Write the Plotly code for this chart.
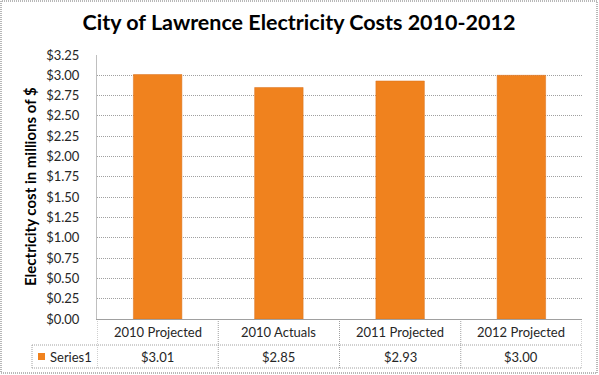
import plotly.graph_objects as go

categories = ["2010 Projected", "2010 Actuals", "2011 Projected", "2012 Projected"]
values = [3.01, 2.85, 2.93, 3.00]
value_labels = ["$3.01", "$2.85", "$2.93", "$3.00"]
series_name = "Series1"
title_text = "City of Lawrence Electricity Costs 2010-2012"
y_title = "Electricity cost in millions of $"

W, H = 599, 375
L, R, T, B = 97, 17, 55, 56
PW = W - L - R
PH = H - T - B

def px_x(p):
    return (p - L) / PW

def px_y(p):
    return (H - B - p) / PH

bar_color = "#F0821E"
line_col = "#A0A0A0"
font_fam = "Lato, 'Open Sans', sans-serif"

fig = go.Figure()
fig.add_trace(go.Bar(
    x=categories, y=values, name=series_name, width=0.4,
    marker=dict(color=bar_color, line=dict(color="#D9701F", width=0.5)),
    showlegend=False, hoverinfo="skip",
))

shapes = []
n = len(categories)
row1 = px_y(345)
row2 = px_y(368)
for yy in (row1, row2):
    shapes.append(dict(type="line", xref="paper", yref="paper",
                       x0=px_x(32), x1=1, y0=yy, y1=yy,
                       line=dict(color=line_col, width=1, dash="1px,1px")))
for i in range(n + 1):
    shapes.append(dict(type="line", xref="x", yref="paper",
                       x0=i - 0.5, x1=i - 0.5, y0=0, y1=row2,
                       line=dict(color=line_col, width=1, dash="1px,1px")))
shapes.append(dict(type="line", xref="paper", yref="paper",
                   x0=px_x(32), x1=px_x(32), y0=row1, y1=row2,
                   line=dict(color=line_col, width=1, dash="1px,1px")))
shapes.append(dict(type="rect", xref="paper", yref="paper",
                   x0=px_x(38), x1=px_x(45), y0=px_y(360), y1=px_y(353),
                   fillcolor=bar_color, line=dict(width=0)))
shapes.append(dict(type="rect", xref="paper", yref="paper",
                   x0=px_x(1), x1=px_x(597), y0=px_y(373), y1=px_y(1),
                   line=dict(color="#707070", width=1, dash="1px,1px")))

annotations = []
for i, (c, v) in enumerate(zip(categories, value_labels)):
    annotations.append(dict(x=i, y=px_y(332), xref="x", yref="paper", text=c,
                            xanchor="center", yanchor="middle",
                            showarrow=False, font=dict(size=13, color="#262626", family=font_fam)))
    annotations.append(dict(x=i, y=px_y(356.5), xref="x", yref="paper", text=v,
                            xanchor="center", yanchor="middle",
                            showarrow=False, font=dict(size=13, color="#262626", family=font_fam)))
annotations.append(dict(x=px_x(48), y=px_y(356.5), xref="paper", yref="paper", text=series_name,
                        xanchor="left", yanchor="middle", showarrow=False,
                        font=dict(size=13, color="#262626", family=font_fam)))
annotations.append(dict(x=px_x(30), y=0.5, xref="paper", yref="paper", text="<b>" + y_title + "</b>",
                        textangle=-90, showarrow=False, xanchor="center", yanchor="middle",
                        font=dict(size=15, color="#000000", family=font_fam)))

fig.update_layout(
    width=W, height=H,
    margin=dict(l=L, r=R, t=T, b=B, pad=0),
    paper_bgcolor="white", plot_bgcolor="white",
    title=dict(text="<b>" + title_text + "</b>", xref="container", x=299 / W, xanchor="center",
               yref="container", y=1 - 22 / H, yanchor="middle",
               font=dict(size=21.5, color="#000000", family=font_fam)),
    bargap=0.6,
    shapes=shapes,
    annotations=annotations,
    font=dict(family=font_fam),
    hovermode=False,
)
fig.update_xaxes(range=[-0.5, n - 0.5], showticklabels=False, ticks="",
                 showgrid=False, zeroline=False, showline=True,
                 linecolor=line_col, linewidth=1)
fig.update_yaxes(range=[0, 3.25], dtick=0.25, tick0=0, tickprefix="$", tickformat=".2f",
                 showgrid=True, gridcolor=line_col, griddash="1px,1px", gridwidth=1,
                 zeroline=False, showline=True, linecolor="#BFBFBF", linewidth=1,
                 ticks="", ticklabelstandoff=14,
                 tickfont=dict(size=13, color="#262626", family=font_fam))

fig.write_html("out.html", config={"displayModeBar": False},
               post_script="document.body.style.margin='0';document.body.style.overflow='hidden';")
